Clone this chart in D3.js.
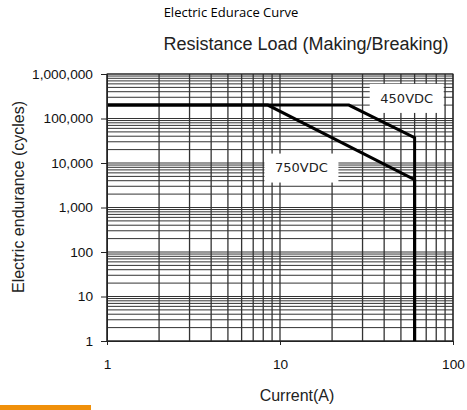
<!DOCTYPE html>
<html>
<head>
<meta charset="utf-8">
<script src="https://cdn.jsdelivr.net/npm/d3@7"></script>
<style>
  body { margin: 0; background: #fff; }
  text { font-family: "Liberation Sans", Arial, sans-serif; }
</style>
</head>
<body>
<svg width="467" height="410"></svg>
<script>
// curve data
var currents750 = [1, 8.5, 60, 60];
var cycles750 = [200000, 200000, 4200, 1];
var currents450 = [1, 25, 60, 60];
var cycles450 = [200000, 200000, 37000, 1];

var xTicks = [1, 10, 100];
var yTicks = [1, 10, 100, 1000, 10000, 100000, 1000000];

// curve labels (anchored in data units)
var labelNames = ["450VDC", "750VDC"];
var labelCurrents = [54, 13.3];
var labelCycles = [290000, 7900];

var svg = d3.select("svg"),
    width = +svg.attr("width"),
    height = +svg.attr("height");

var plotLeft = 107, plotRight = 453, plotTop = 74, plotBottom = 341;

var x = d3.scaleLog().domain([1, 100]).range([plotLeft, plotRight]);
var y = d3.scaleLog().domain([1, 1000000]).range([plotBottom, plotTop]);

// titles
svg.append("text")
    .attr("x", 231).attr("y", 17)
    .attr("text-anchor", "middle")
    .style("font-family", "'Open Sans', 'Noto Sans', sans-serif")
    .style("font-size", "13px")
    .attr("fill", "#000")
    .text("Electric Edurace Curve");

svg.append("text")
    .attr("x", 306).attr("y", 50)
    .attr("text-anchor", "middle")
    .style("font-size", "18px")
    .attr("fill", "#222")
    .text("Resistance Load (Making/Breaking)");

// grid
var grid = svg.append("g").attr("stroke", "#333").attr("stroke-width", 1);

grid.selectAll(".hl")
    .data(y.ticks())
    .enter().append("line")
    .attr("class", "hl")
    .attr("x1", plotLeft).attr("x2", plotRight)
    .attr("y1", function(d) { return y(d); })
    .attr("y2", function(d) { return y(d); });

grid.selectAll(".vl")
    .data(x.ticks())
    .enter().append("line")
    .attr("class", "vl")
    .attr("stroke-width", 1.3)
    .attr("y1", plotTop).attr("y2", plotBottom)
    .attr("x1", function(d) { return x(d); })
    .attr("x2", function(d) { return x(d); });

svg.append("rect")
    .attr("x", plotLeft).attr("y", plotTop)
    .attr("width", plotRight - plotLeft).attr("height", plotBottom - plotTop)
    .attr("fill", "none").attr("stroke", "#222");

// label boxes
var lab = svg.selectAll(".lab")
    .data(labelNames)
    .enter().append("g")
    .attr("class", "lab")
    .attr("transform", function(d, i) {
        return "translate(" + x(labelCurrents[i]) + "," + y(labelCycles[i]) + ")";
    });

lab.append("rect")
    .attr("x", -37).attr("y", -14)
    .attr("width", 74).attr("height", 29)
    .attr("fill", "#fff");

lab.append("text")
    .attr("text-anchor", "middle")
    .attr("dy", "0.36em")
    .style("font-family", "'DejaVu Sans', sans-serif")
    .style("font-size", "13px")
    .attr("fill", "#222")
    .text(function(d) { return d; });

// curves
var line = d3.line()
    .x(function(d) { return x(d[0]); })
    .y(function(d) { return y(d[1]); });

[[currents750, cycles750], [currents450, cycles450]].forEach(function(s) {
    svg.append("path")
        .datum(d3.zip(s[0], s[1]))
        .attr("d", line)
        .attr("fill", "none")
        .attr("stroke", "#000")
        .attr("stroke-width", 3);
});

// axes
var yAxis = svg.append("g")
    .attr("transform", "translate(" + plotLeft + ",0)")
    .call(d3.axisLeft(y).tickValues(yTicks).tickSize(6).tickSizeOuter(0)
        .tickPadding(8).tickFormat(d3.format(",")));

var xAxis = svg.append("g")
    .attr("transform", "translate(0," + plotBottom + ")")
    .call(d3.axisBottom(x).tickValues(xTicks).tickSize(4).tickSizeOuter(0)
        .tickPadding(14).tickFormat(d3.format("d")));

[yAxis, xAxis].forEach(function(a) {
    a.selectAll("path, line").attr("stroke", "#222");
    a.selectAll("text")
        .style("font-family", "'Liberation Sans', Arial, sans-serif")
        .style("font-size", "13.7px")
        .attr("fill", "#111");
});

// axis titles
svg.append("text")
    .attr("transform", "translate(24,197) rotate(-90)")
    .attr("text-anchor", "middle")
    .style("font-size", "16px")
    .attr("fill", "#222")
    .text("Electric endurance (cycles)");

svg.append("text")
    .attr("x", 297).attr("y", 401)
    .attr("text-anchor", "middle")
    .style("font-size", "16px")
    .attr("fill", "#222")
    .text("Current(A)");

// orange bar bottom left
svg.append("rect")
    .attr("x", 0).attr("y", 405)
    .attr("width", 91).attr("height", 5)
    .attr("fill", "#f0900a");
</script>
</body>
</html>
